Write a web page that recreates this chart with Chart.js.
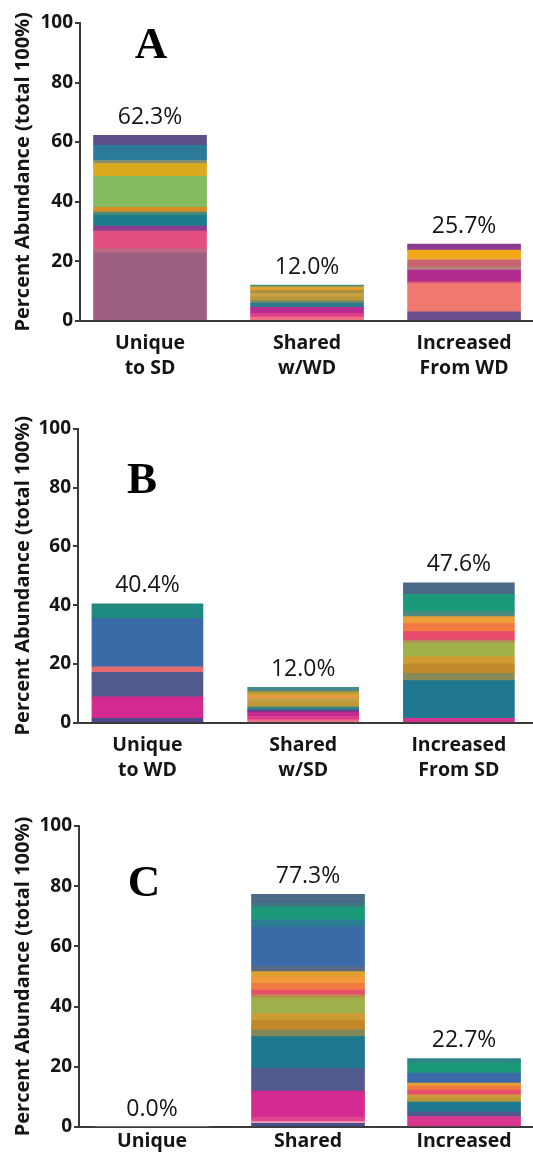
<!DOCTYPE html>
<html>
<head>
<meta charset="utf-8">
<script src="https://cdn.jsdelivr.net/npm/chart.js@4/dist/chart.umd.min.js"></script>
<style>
  html, body { margin: 0; padding: 0; background: #fff; }
  body { width: 533px; height: 1153px; position: relative; overflow: hidden; }
  canvas { position: absolute; left: 0; }
</style>
</head>
<body>
<canvas id="panelA" width="533" height="400" style="top:0px"></canvas>
<canvas id="panelB" width="533" height="400" style="top:385px"></canvas>
<canvas id="panelC" width="533" height="383" style="top:770px"></canvas>
<script>
// ---- categories and axis ticks ----
const categoriesA = [['Unique', 'to SD'], ['Shared', 'w/WD'], ['Increased', 'From WD']];
const categoriesB = [['Unique', 'to WD'], ['Shared', 'w/SD'], ['Increased', 'From SD']];
const categoriesC = [['Unique'], ['Shared'], ['Increased']];
const yTicks = [0, 20, 40, 60, 80, 100];
const yTitle = 'Percent Abundance (total 100%)';

// ---- panel A: percent abundance of each taxon, stacked bottom to top ----
const uniqueToSD      = [22.7, 1.4, 6.0, 1.7, 3.7, 1.0, 1.6, 10.4, 4.3, 1.0, 5.1, 3.4];
const sharedWithWD    = [1.3, 1.2, 2.0, 1.3, 0.9, 1.4, 1.1, 0.9, 0.5, 0.8, 0.6];
const increasedFromWD = [3.0, 9.5, 0.6, 3.9, 1.1, 2.3, 0.5, 2.8, 2.0];

// ---- panel B ----
const uniqueToWD      = [1.5, 7.3, 8.3, 1.9, 16.5, 4.9];
const sharedWithSD    = [1.0, 1.1, 1.5, 0.6, 0.8, 0.5, 1.6, 1.2, 0.8, 0.8, 0.8, 1.3];
const increasedFromSD = [1.5, 12.8, 2.5, 3.2, 2.4, 4.8, 0.9, 2.9, 2.8, 2.3, 1.7, 5.9, 3.9];

// ---- panel C ----
const uniqueC    = [0];
const sharedC    = [1.2, 0.6, 1.5, 8.6, 7.6, 10.5, 2.2, 3.3, 2.3, 5.0, 1.1, 1.6, 2.2, 2.2, 1.7, 1.7, 13.2, 2.3, 4.2, 1.3, 3.0];
const increasedC = [3.5, 1.5, 3.3, 1.2, 1.2, 1.6, 1.4, 0.9, 3.3, 3.3, 1.5];

// ---- segment colours (bottom to top) ----
const colUniqueToSD = ['#9c5f82', '#b86a80', '#e2507f', '#8b3c8e', '#1b7d8c', '#4c8a78', '#d98c25', '#84bb5e', '#dcaa1e', '#8a8c6e', '#2b7a99', '#5d4f88'];
const colSharedWithWD = ['#ee6e86', '#e03d8a', '#b62c92', '#2b7a8c', '#6a8a6e', '#b89838', '#c9a044', '#a88f42', '#ec9a30', '#d9a82e', '#4b8a80'];
const colIncreasedFromWD = ['#6a4f8c', '#f07a70', '#d4507c', '#b12b8f', '#b3827a', '#c9626f', '#e8a040', '#f0a818', '#8a3a90'];
const colUniqueToWD = ['#4a4a8c', '#d22a8e', '#51598f', '#e36a6e', '#3a6aa8', '#1f8a80'];
const colSharedWithSD = ['#ee7088', '#e03b8a', '#c02a90', '#6b3c90', '#2a7a8a', '#5a8a70', '#c09a32', '#c4a048', '#e89a40', '#d4a232', '#a89244', '#4a8a88'];
const colIncreasedFromSD = ['#d4328e', '#1f7790', '#888a58', '#c08a2a', '#d29c34', '#a2b04a', '#b88a5a', '#e84b6b', '#f07a42', '#eb9e36', '#4a8a80', '#1b9a7a', '#4b6a8a'];
const colUniqueC = ['#ffffff'];
const colSharedC = ['#4b4e8c', '#f2a0b0', '#e0468e', '#d22a8e', '#52598f', '#1e7890', '#7f8658', '#c08828', '#cc9c34', '#9fb04a', '#b89050', '#e6506a', '#f07a42', '#f0983a', '#e0a030', '#5a6a80', '#3a6aa8', '#2a7e92', '#1a9a78', '#3a7a80', '#4a6a88'];
const colIncreasedC = ['#d8368c', '#50588e', '#1e7890', '#b8963a', '#cc9c3c', '#e84d6c', '#f07a40', '#e4a234', '#3a6aa8', '#1a9a78', '#2e8482'];

const AXIS = '#3a3a3a';
const TEXT = '#151515';
const SANS = '"Open Sans", "DejaVu Sans", sans-serif';

// One dataset per stacking level; each bar takes its own k-th segment.
function buildDatasets(bars, colors) {
  const n = Math.max(...bars.map(b => b.length));
  const sets = [];
  for (let k = 0; k < n; k++) {
    sets.push({
      data: bars.map((b, i) => ({ x: i, y: b[k] ?? 0 })),
      backgroundColor: colors.map(c => c[k] ?? 'rgba(0,0,0,0)'),
      borderWidth: 0
    });
  }
  return sets;
}

function makePanel(id, bars, colors, labels, letter, L) {
  // totals above each bar plus the panel letter
  const annotate = {
    id: 'annotate',
    afterDatasetsDraw(chart) {
      const { ctx, scales: { x, y } } = chart;
      ctx.save();
      ctx.fillStyle = TEXT;
      ctx.textAlign = 'center';
      ctx.textBaseline = 'middle';
      ctx.font = '23px ' + SANS;
      bars.forEach((bar, i) => {
        const total = bar.reduce((a, b) => a + b, 0);
        ctx.fillText(total.toFixed(1) + '%', x.getPixelForValue(i), y.getPixelForValue(total) - 18);
      });
      ctx.fillStyle = '#000';
      ctx.font = 'bold 45px "Liberation Serif", "Times New Roman", serif';
      ctx.fillText(letter, L.letterX, L.letterY);
      ctx.restore();
    }
  };

  new Chart(document.getElementById(id), {
    type: 'bar',
    data: { datasets: buildDatasets(bars, colors) },
    options: {
      responsive: false,
      animation: false,
      layout: { padding: { top: L.top, left: 0, right: 0, bottom: 0 } },
      datasets: { bar: { barThickness: L.barWidth } },
      plugins: { legend: { display: false }, tooltip: { enabled: false } },
      scales: {
        x: {
          type: 'linear',
          stacked: true,
          offset: false,
          min: L.xMin,
          max: L.xMax,
          afterBuildTicks: s => { s.ticks = labels.map((_, i) => ({ value: i })); },
          afterFit: s => { s.height = L.xHeight; },
          grid: { display: false, drawTicks: false, offset: false },
          border: { display: true, color: AXIS, width: 2 },
          ticks: {
            autoSkip: false,
            maxRotation: 0,
            padding: L.labelPad,
            color: TEXT,
            font: { family: SANS, size: 19.5, weight: 'bold', lineHeight: 1.28 },
            callback: v => labels[v]
          }
        },
        y: {
          stacked: true,
          min: 0,
          max: 100,
          afterBuildTicks: s => { s.ticks = yTicks.map(v => ({ value: v })); },
          afterFit: s => { s.width = L.yWidth; },
          grid: { drawOnChartArea: false, drawTicks: true, tickLength: 5, color: AXIS, lineWidth: 2 },
          border: { display: true, color: AXIS, width: 2 },
          ticks: { padding: 2, color: TEXT, font: { family: SANS, size: 19, weight: 'bold' } },
          title: {
            display: true,
            text: yTitle,
            color: TEXT,
            padding: { top: 11, bottom: 0 },
            font: { family: SANS, size: 20, weight: 'bold' }
          }
        }
      }
    },
    plugins: [annotate]
  });
}

makePanel('panelA', [uniqueToSD, sharedWithWD, increasedFromWD],
  [colUniqueToSD, colSharedWithWD, colIncreasedFromWD], categoriesA, 'A',
  { top: 23, xHeight: 79.3, yWidth: 80, xMin: -0.446, xMax: 2.439, barWidth: 113, labelPad: 10, letterX: 151, letterY: 46 });

makePanel('panelB', [uniqueToWD, sharedWithSD, increasedFromSD],
  [colUniqueToWD, colSharedWithSD, colIncreasedFromSD], categoriesB, 'B',
  { top: 43.7, xHeight: 62.3, yWidth: 78, xMin: -0.446, xMax: 2.476, barWidth: 111, labelPad: 10, letterX: 142, letterY: 96 });

makePanel('panelC', [uniqueC, sharedC, increasedC],
  [colUniqueC, colSharedC, colIncreasedC], categoriesC, 'C',
  { top: 56, xHeight: 26, yWidth: 79, xMin: -0.468, xMax: 2.442, barWidth: 113, labelPad: 2, letterX: 144, letterY: 114 });
</script>
</body>
</html>
